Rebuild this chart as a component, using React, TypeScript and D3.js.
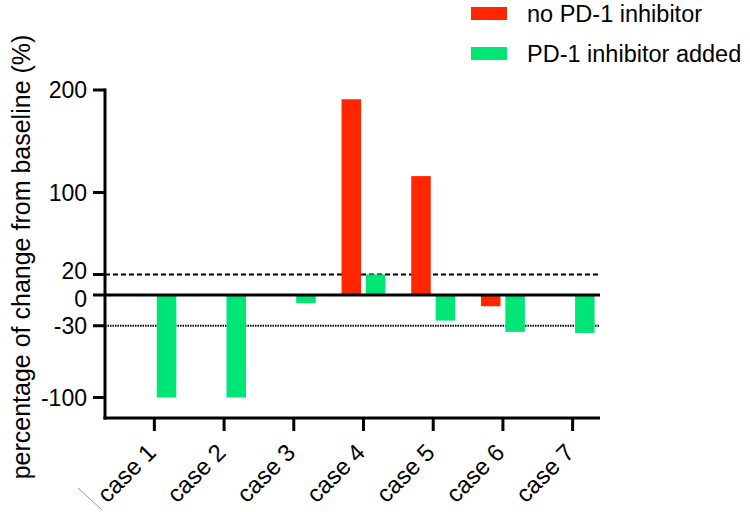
// @ts-nocheck
import React from 'react'
import * as d3 from 'd3'

const cases = ['case 1', 'case 2', 'case 3', 'case 4', 'case 5', 'case 6', 'case 7']
const noInhibitor = [0, 0, 0, 191, 116, -11, 0]
const inhibitorAdded = [-100, -100, -8, 20, -25, -36, -37]
const yTicks = [200, 100, 20, 0, -30, -100]
const seriesNames = ['no PD-1 inhibitor', 'PD-1 inhibitor added']
const seriesColors = ['#ff2600', '#00e676']

const font = 'Liberation Sans, Arial, Helvetica, sans-serif'

const width = 750
const height = 512
const left = 105
const right = 600
const top = 90
const bottom = 418

// 20 and 0 sit very close, nudge them apart a little
const tickDy = (t) => (t === 20 ? '0.2em' : t === 0 ? '0.5em' : '0.35em')

const YAxis = ({ scale }) => (
  <g>
    {yTicks.map((t) => (
      <g key={t} transform={`translate(0, ${scale(t)})`}>
        <line x1={left - 12} x2={left} stroke="#000" strokeWidth={3} />
        <text x={left - 18} dy={tickDy(t)} textAnchor="end" fontFamily={font} fontSize={23} fill="#000">
          {t}
        </text>
      </g>
    ))}
  </g>
)

const XAxis = ({ scale }) => (
  <g>
    {scale.domain().map((c) => {
      const cx = scale(c) + scale.bandwidth() / 2
      return (
        <g key={c}>
          <line x1={cx} x2={cx} y1={bottom} y2={bottom + 13} stroke="#000" strokeWidth={3} />
          <text
            transform={`translate(${cx + 3}, 454) rotate(-45)`}
            textAnchor="end"
            fontFamily={font}
            fontSize={24}
            fill="#000"
          >
            {c}
          </text>
        </g>
      )
    })}
  </g>
)

const App = () => {
  const y = d3.scaleLinear().domain([-120, 200]).range([bottom, top])
  const x = d3.scaleBand().domain(cases).range([119.5, 607.5]).paddingInner(0.37).paddingOuter(0.185)
  const sub = d3.scaleBand().domain([0, 1]).range([0, x.bandwidth()]).paddingInner(0.2)

  const series = [noInhibitor, inhibitorAdded]

  return (
    <svg
      width={width}
      height={height}
      style={{ position: 'absolute', left: 0, top: 0, background: '#fff' }}
    >
      <line x1={left} x2={right} y1={y(20)} y2={y(20)} stroke="#000" strokeWidth={2} strokeDasharray="5,3" />
      <line x1={left} x2={right} y1={y(-30)} y2={y(-30)} stroke="#000" strokeWidth={2} strokeDasharray="1.5,1" />

      {series.map((vals, s) =>
        vals.map((v, i) =>
          v === 0 ? null : (
            <rect
              key={`${s}-${i}`}
              x={x(cases[i]) + sub(s)}
              y={y(Math.max(0, v))}
              width={sub.bandwidth()}
              height={Math.abs(y(v) - y(0))}
              fill={seriesColors[s]}
            />
          )
        )
      )}

      <line x1={left} x2={right} y1={y(0)} y2={y(0)} stroke="#000" strokeWidth={3} />
      <line x1={left} x2={left} y1={top - 1.5} y2={bottom + 1.5} stroke="#000" strokeWidth={3} />
      <line x1={left - 1.5} x2={right} y1={bottom} y2={bottom} stroke="#000" strokeWidth={3} />

      <YAxis scale={y} />
      <XAxis scale={x} />

      <text
        transform={`translate(30, 257) rotate(-90)`}
        textAnchor="middle"
        fontFamily={font}
        fontSize={25}
        fill="#000"
      >
        percentage of change from baseline (%)
      </text>

      <line x1={78} y1={488} x2={102} y2={510} stroke="#999" strokeWidth={1} />

      {seriesNames.map((name, s) => (
        <g key={name} transform={`translate(471, ${7 + s * 40})`}>
          <rect width={36} height={13} fill={seriesColors[s]} />
          <text x={56} y={15} fontFamily={font} fontSize={23.5} fill="#000">
            {name}
          </text>
        </g>
      ))}
    </svg>
  )
}

export default App
